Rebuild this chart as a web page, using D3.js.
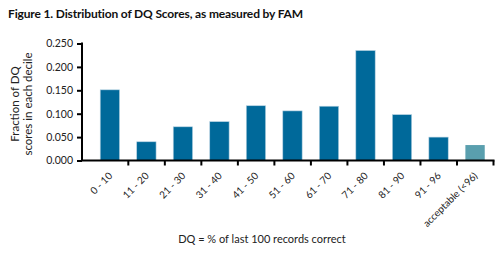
<!DOCTYPE html>
<html>
<head>
<meta charset="utf-8">
<script src="https://cdn.jsdelivr.net/npm/d3@7"></script>
<style>
  body { margin: 0; background: #fff; }
  svg { display: block; font-family: Lato, "Open Sans", sans-serif; }
  .tick-label { font-size: 10px; fill: #222; }
</style>
</head>
<body>
<div id="chart"></div>
<script>
// decile categories and the fraction of DQ scores in each
var categories = ["0 - 10", "11 - 20", "21 - 30", "31 - 40", "41 - 50", "51 - 60",
                  "61 - 70", "71 - 80", "81 - 90", "91 - 96", "acceptable (<96)"];
var fractions = [0.151, 0.040, 0.072, 0.083, 0.117, 0.106, 0.116, 0.235, 0.098, 0.050, 0.033];
var yTicks = [0, 0.05, 0.1, 0.15, 0.2, 0.25];

var width = 500, height = 270;
var barColor = "#00699a", okColor = "#5a9fae";

var svg = d3.select("#chart").append("svg")
    .attr("width", width)
    .attr("height", height);

svg.append("text")
    .attr("x", 8).attr("y", 18)
    .attr("font-size", 12).attr("font-weight", "bold")
    .attr("letter-spacing", -0.15)
    .attr("fill", "#111")
    .text("Figure 1. Distribution of DQ Scores, as measured by FAM");

var axisX = 82, baseY = 160.5, topY = 43.5;
var x = d3.scaleBand().domain(categories).range([91.8, 493.5]).padding(0);
var y = d3.scaleLinear().domain([0, 0.25]).range([baseY, topY]);
var step = x.step();

// bars
svg.append("g").selectAll("rect")
    .data(fractions)
    .enter()
    .append("rect")
    .attr("x", function(d, i) { return x(categories[i]) + step * 0.23; })
    .attr("width", step * 0.53)
    .attr("y", function(d) { return y(d); })
    .attr("height", function(d) { return baseY - y(d); })
    .attr("fill", function(d, i) { return i == categories.length - 1 ? okColor : barColor; })
    .attr("stroke", function(d, i) { return i == categories.length - 1 ? "none" : "#b6d2e2"; })
    .attr("stroke-width", 0.6);

// y axis
var yAxis = svg.append("g")
    .attr("transform", "translate(" + axisX + ",0)")
    .call(d3.axisLeft(y).tickValues(yTicks).tickFormat(d3.format(".3f")).tickSize(5).tickPadding(4));
yAxis.select(".domain").attr("stroke", "#000").attr("stroke-width", 2)
    .attr("d", "M0," + (topY - 1) + "V" + baseY);
yAxis.selectAll(".tick line").attr("stroke", "#000").attr("stroke-width", 2);
yAxis.selectAll(".tick text").attr("font-size", 10.5).attr("fill", "#222")
    .attr("font-family", "Lato, sans-serif");

// x axis: ticks on the band boundaries
var edges = d3.range(categories.length).map(function(i) { return x(categories[i]) + step; });
var xAxis = svg.append("g");
xAxis.append("line")
    .attr("x1", axisX - 1).attr("x2", edges[edges.length - 1] + 1)
    .attr("y1", baseY).attr("y2", baseY)
    .attr("stroke", "#000").attr("stroke-width", 2);
xAxis.selectAll("line.tk")
    .data(edges)
    .enter()
    .append("line")
    .attr("class", "tk")
    .attr("x1", function(d) { return d; }).attr("x2", function(d) { return d; })
    .attr("y1", baseY).attr("y2", baseY + 5)
    .attr("stroke", "#000").attr("stroke-width", 2);
xAxis.selectAll("text")
    .data(categories)
    .enter()
    .append("text")
    .attr("class", "tick-label")
    .attr("text-anchor", "end")
    .attr("transform", function(d) {
        return "translate(" + (x(d) + step / 2 + 3) + "," + (baseY + 16) + ") rotate(-45)";
    })
    .text(function(d) { return d; });

// axis titles
svg.append("text")
    .attr("text-anchor", "middle")
    .attr("x", 262).attr("y", 243)
    .attr("font-size", 11).attr("fill", "#222")
    .text("DQ = % of last 100 records correct");

var yTitle = svg.append("text")
    .attr("text-anchor", "middle")
    .attr("transform", "translate(19,104) rotate(-90)")
    .attr("font-size", 11.5).attr("fill", "#222");
yTitle.append("tspan").attr("x", 0).attr("dy", 0).text("Fraction of DQ");
yTitle.append("tspan").attr("x", 0).attr("dy", 13).text("scores in each decile");
</script>
</body>
</html>
